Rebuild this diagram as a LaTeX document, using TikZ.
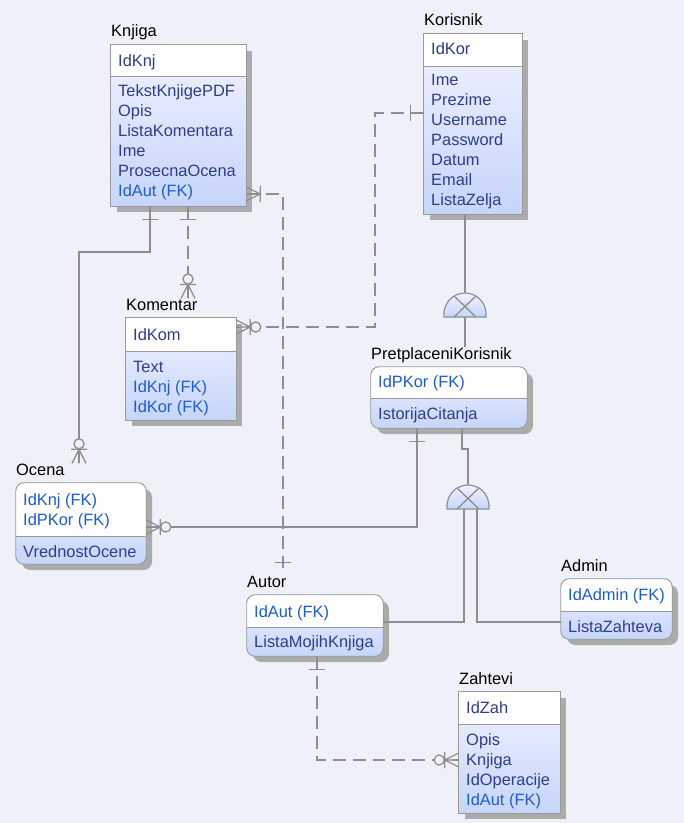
\documentclass[tikz,border=0pt]{standalone}
\usepackage{fontspec}
\setmainfont{Liberation Sans}
\usetikzlibrary{fit}

\definecolor{bg}{HTML}{EEF2F8}
\definecolor{boxline}{HTML}{9A9A9A}
\definecolor{boxshadow}{HTML}{ABABAB}
\definecolor{bodytop}{HTML}{F1F2FF}
\definecolor{bodybot}{HTML}{C6D5FA}
\definecolor{attrcol}{HTML}{2E3D8C}
\definecolor{fkcol}{HTML}{1E5CD2}
\definecolor{relcol}{HTML}{8E8E8E}

\newcommand{\fk}[1]{\textcolor{fkcol}{#1}}

% one entity box: name, x1, y1, x2, y2, key line, corner, title
\newcommand{\entity}[8]{
  \fill[boxshadow, rounded corners=#7] (#2+6,#3+6) rectangle (#4+6,#5+6);
  \node[inner sep=0pt, fit={(#2,#3) (#4,#5)}] (#1) {};
  \begin{scope}
    \clip[rounded corners=#7] (#1.north west) rectangle (#1.south east);
    \shade[top color=bodytop, bottom color=bodybot] (#1.north west) rectangle (#1.south east);
    \fill[white] (#1.north west) rectangle (#4,#6);
  \end{scope}
  \draw[draw=boxline, line width=0.8pt] (#2,#6) -- (#4,#6);
  \draw[draw=boxline, line width=0.8pt, rounded corners=#7] (#1.north west) rectangle (#1.south east);
  \node[enttitle] (#1-t) at (#2,#3-8) {#8};
}

\begin{document}
\begin{tikzpicture}
  [x=0.03cm, y=-0.03cm,
   enttitle/.style={anchor=base west, inner sep=0pt, font=\fontsize{14}{17}\selectfont, text=black},
   entattr/.style={anchor=base west, inner sep=0pt, font=\fontsize{14}{17}\selectfont, text=attrcol},
   rel/.style={draw=relcol, line width=1.1pt},
   dashrel/.style={rel, dash pattern=on 11pt off 6pt},
   onemark/.pic={\draw[rel] (13,-8) -- (13,8);},
   crowmany/.pic={\draw[rel] (0,-7) -- (14,0) -- (0,7) (0,0) -- (14,0) (14,-8) -- (14,8);},
   crowzero/.pic={\draw[rel] (0,-7) -- (14,0) -- (0,7) (0,0) -- (14,0) (14,-8) -- (14,8);
                  \draw[rel, fill=bg] (19.5,0) circle[radius=4.3pt];},
   isamark/.pic={\shadedraw[top color=bodytop, bottom color=bodybot, draw=relcol, line width=1pt]
                   (-21,0) -- (-21,-3) arc[start angle=180, end angle=0, radius=0.63cm] -- (21,0) -- cycle;
                 \draw[rel] (-11,-21) -- (11,0) (11,-21) -- (-11,0);}]

  \fill[bg] (0,0) rectangle (684,823);
  \useasboundingbox (0,0) rectangle (684,823);

  % entities
  \entity{knjiga}{111}{45}{246}{206}{76}{0pt}{Knjiga}
  \node[entattr] (knjiga-k) at (118,67) {IdKnj};
  \foreach \a [count=\i from 0] in {TekstKnjigePDF,Opis,ListaKomentara,Ime,ProsecnaOcena,\fk{IdAut (FK)}}
    \node[entattr] (knjiga-a\i) at (118,97+20*\i) {\a};

  \entity{korisnik}{424}{34}{522}{214}{66}{0pt}{Korisnik}
  \node[entattr] (korisnik-k) at (431,55) {IdKor};
  \foreach \a [count=\i from 0] in {Ime,Prezime,Username,Password,Datum,Email,ListaZelja}
    \node[entattr] (korisnik-a\i) at (431,86+20*\i) {\a};

  \entity{komentar}{126}{318}{236}{420}{351}{0pt}{Komentar}
  \node[entattr] (komentar-k) at (133,340) {IdKom};
  \foreach \a [count=\i from 0] in {Text,\fk{IdKnj (FK)},\fk{IdKor (FK)}}
    \node[entattr] (komentar-a\i) at (133,372+20*\i) {\a};

  \entity{pk}{371}{367}{527}{428}{398}{7pt}{PretplaceniKorisnik}
  \node[entattr] (pk-k) at (378,387) {\fk{IdPKor (FK)}};
  \node[entattr] (pk-a0) at (378,419) {IstorijaCitanja};

  \entity{ocena}{16}{483}{146}{564}{536}{7pt}{Ocena}
  \node[entattr] (ocena-k0) at (23,505) {\fk{IdKnj (FK)}};
  \node[entattr] (ocena-k1) at (23,525) {\fk{IdPKor (FK)}};
  \node[entattr] (ocena-a0) at (23,557) {VrednostOcene};

  \entity{autor}{247}{595}{383}{656}{627}{7pt}{Autor}
  \node[entattr] (autor-k) at (254,617) {\fk{IdAut (FK)}};
  \node[entattr] (autor-a0) at (254,647) {ListaMojihKnjiga};

  \entity{admin}{561}{579}{672}{639}{611}{7pt}{Admin}
  \node[entattr] (admin-k) at (568,600) {\fk{IdAdmin (FK)}};
  \node[entattr] (admin-a0) at (568,632) {ListaZahteva};

  \entity{zahtevi}{459}{692}{560}{813}{724}{0pt}{Zahtevi}
  \node[entattr] (zahtevi-k) at (466,713) {IdZah};
  \foreach \a [count=\i from 0] in {Opis,Knjiga,IdOperacije,\fk{IdAut (FK)}}
    \node[entattr] (zahtevi-a\i) at (466,745+20*\i) {\a};

  % relationships
  \draw[rel] (150,0 |- knjiga.south) -- (150,252) -| (79,0 |- ocena-t.north);
  \draw[dashrel] (188,0 |- knjiga.south) -- (188,0 |- komentar-t.north);
  \draw[dashrel] (knjiga.east |- 0,194) -| (283,0 |- autor-t.north);
  \draw[dashrel] (korisnik.west |- 0,113) -| (375,327) -- (komentar.east |- 0,327);
  \draw[rel] (417,0 |- pk.south) |- (ocena.east |- 0,527);
  \draw[dashrel] (317,0 |- autor.south) |- (zahtevi.west |- 0,760);

  % subtypes
  \draw[rel] (465,0 |- korisnik.south) -- (465,294);
  \draw[rel] (465,317) -- (465,0 |- pk-t.north);
  \pic at (465,317) {isamark};
  \draw[rel] (462,0 |- pk.south) -- (462,449) -- (468,449) -- (468,486);
  \draw[rel] (464,509) |- (autor.east |- 0,622);
  \draw[rel] (477,509) |- (admin.west |- 0,622);
  \pic at (468,509) {isamark};

  % ends
  \pic[rotate=-90] at (150,0 |- knjiga.south) {onemark};
  \pic[rotate=90] at (79,0 |- ocena-t.north) {crowzero};
  \pic[rotate=-90] at (188,0 |- knjiga.south) {onemark};
  \pic[rotate=90] at (188,0 |- komentar-t.north) {crowzero};
  \pic at (knjiga.east |- 0,194) {crowmany};
  \pic[rotate=90] at (283,0 |- autor-t.north) {onemark};
  \pic[rotate=180] at (korisnik.west |- 0,113) {onemark};
  \pic at (komentar.east |- 0,327) {crowzero};
  \pic[rotate=-90] at (417,0 |- pk.south) {onemark};
  \pic at (ocena.east |- 0,527) {crowzero};
  \pic[rotate=-90] at (317,0 |- autor.south) {onemark};
  \pic[rotate=180] at (zahtevi.west |- 0,760) {crowzero};
\end{tikzpicture}
\end{document}
